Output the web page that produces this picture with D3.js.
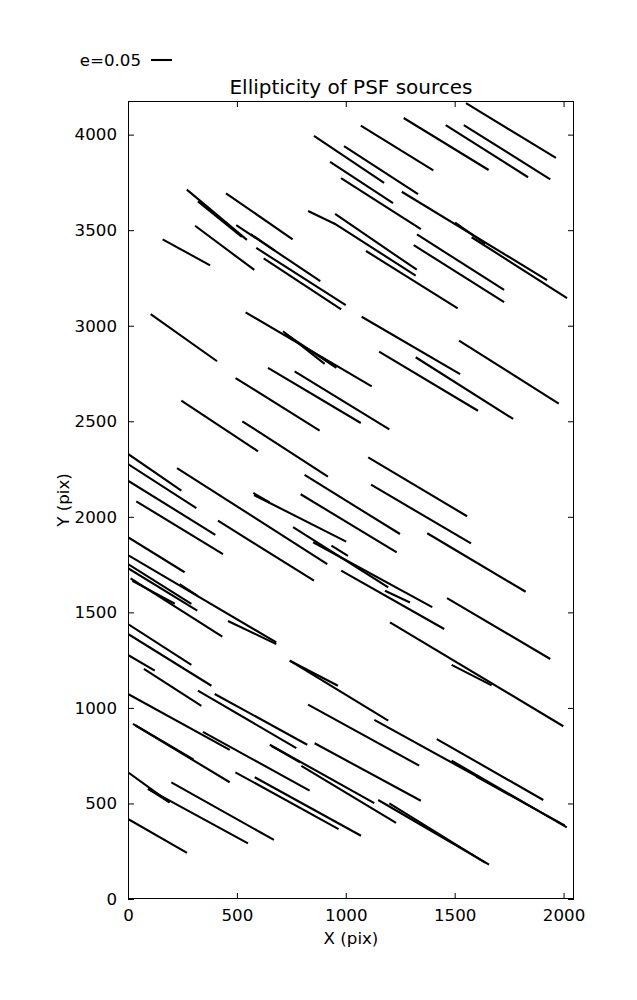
<!DOCTYPE html>
<html>
<head>
<meta charset="utf-8">
<script src="https://cdn.jsdelivr.net/npm/d3@7/dist/d3.min.js"></script>
<style>
  body { margin: 0; background: #fff; }
  svg { display: block; }
  text { font-family: "DejaVu Sans", sans-serif; fill: #000; }
</style>
</head>
<body>
<svg id="chart" width="637" height="1000"></svg>
<script>
// Whisker segments (data units, pixels on the CCD): start and end of each ellipticity stick
const xStart = [1552,1069,1266,1459,1542,854,992,928,978,1257,1578,1502,1327,1312,951,947,1093,827,270,321,450,308,159,497,563,589,623,
  104,1073,1153,1321,1520,540,712,720,643,765,494,245,525,
  1103,1116,811,793,1374,575,413,1465,1203,1486,850,758,934,979,1180,
  0,0,0,0,12,20,237,459,0,0,0,73,
  23,35,0,344,321,398,827,857,651,660,796,493,582,0,92,92,0,199,743,743,1131,1418,1486,1600,1149,1200,
  0,38,0,0,579,225];
const yStart = [4165,4047,4087,4050,4050,3993,3940,3857,3773,3701,3463,3540,3478,3422,3585,3536,3391,3600,3712,3651,3693,3523,3452,3527,3480,3407,3353,
  3061,3047,2864,2835,2922,3070,2971,2960,2779,2761,2726,2608,2500,
  2311,2168,2219,2118,1914,2125,1980,1575,1448,1225,1867,1946,1849,1718,1613,
  1893,1800,1753,1731,1678,1665,1648,1455,1439,1387,1277,1204,
  916,908,1073,875,1090,1073,1017,815,807,800,697,663,637,663,576,576,419,610,1247,1247,937,837,724,640,518,500,
  2329,2081,2189,2276,2114,2255];
const xEnd = [1965,1402,1656,1837,1939,1176,1332,1217,1345,1924,2016,1640,1727,1727,1326,1321,1514,951,546,523,756,580,377,883,674,1000,979,
  409,1525,1607,1769,1978,1119,903,957,1069,1200,880,597,918,
  1557,1575,1249,1234,1826,650,854,1939,1999,1670,1397,1195,1010,1452,1295,
  260,681,291,318,433,215,318,681,291,383,123,337,
  467,300,467,834,773,823,1337,1345,1131,790,1231,967,1070,191,191,551,271,670,1195,964,1624,1907,2015,2005,1658,1640,
  245,436,401,314,1002,915];
const yEnd = [3878,3813,3815,3777,3766,3747,3689,3642,3506,3239,3145,3430,3187,3123,3293,3262,3091,3532,3449,3464,3452,3292,3316,3234,3393,3108,3086,
  2814,2747,2555,2512,2592,2683,2800,2779,2491,2458,2451,2343,2210,
  2003,1861,1910,1814,1608,2075,1666,1256,904,1118,1527,1631,1796,1413,1552,
  1710,1343,1544,1509,1373,1545,1587,1334,1225,1116,1195,1011,
  611,730,780,567,790,807,698,514,502,715,398,366,331,506,506,291,241,309,933,1116,628,518,375,385,180,190,
  2137,1805,1906,2046,1870,1753];

const xTicks = [0, 500, 1000, 1500, 2000];
const yTicks = [0, 500, 1000, 1500, 2000, 2500, 3000, 3500, 4000];
const xDomain = [0, 2048];
const yDomain = [0, 4176];
const keyE = 0.05;          // quiver key ellipticity
const keyLabel = "e=0.05";
const titleText = "Ellipticity of PSF sources";
const xLabel = "X (pix)";
const yLabel = "Y (pix)";

const plot = { left: 128, right: 574, top: 101, bottom: 899 };
const pxPerE = 420;         // whisker length scale (px per unit ellipticity)

const svg = d3.select("#chart");
const x = d3.scaleLinear().domain(xDomain).range([plot.left, plot.right]);
const y = d3.scaleLinear().domain(yDomain).range([plot.bottom, plot.top]);

svg.append("defs").append("clipPath").attr("id", "clip")
  .append("rect").attr("x", plot.left).attr("y", plot.top)
  .attr("width", plot.right - plot.left).attr("height", plot.bottom - plot.top);

const segs = d3.range(xStart.length).map(i => ({x1: xStart[i], y1: yStart[i], x2: xEnd[i], y2: yEnd[i]}));

svg.append("g").attr("clip-path", "url(#clip)")
  .selectAll("line").data(segs).join("line")
  .attr("x1", d => x(d.x1)).attr("y1", d => y(d.y1))
  .attr("x2", d => x(d.x2)).attr("y2", d => y(d.y2))
  .attr("stroke", "#000").attr("stroke-width", 2.1).attr("stroke-linecap", "butt");

const fs = 16.67;
const tickLen = 6;

const axB = d3.axisBottom(x).tickValues(xTicks).tickSize(-tickLen).tickPadding(tickLen + 4).tickFormat(d3.format("d"));
const axT = d3.axisTop(x).tickValues(xTicks).tickSize(-tickLen).tickFormat("");
const axL = d3.axisLeft(y).tickValues(yTicks).tickSize(-tickLen).tickPadding(tickLen + 5).tickFormat(d3.format("d"));
const axR = d3.axisRight(y).tickValues(yTicks).tickSize(-tickLen).tickFormat("");

function style(g) {
  g.select(".domain").remove();
  g.selectAll(".tick line").attr("stroke", "#000").attr("stroke-width", 1);
  g.selectAll(".tick text").style("font-size", fs + "px").style("font-family", "DejaVu Sans");
}
svg.append("g").attr("transform", `translate(0,${plot.bottom})`).call(axB).call(style);
svg.append("g").attr("transform", `translate(0,${plot.top})`).call(axT).call(style);
svg.append("g").attr("transform", `translate(${plot.left},0)`).call(axL).call(style);
svg.append("g").attr("transform", `translate(${plot.right},0)`).call(axR).call(style);

svg.append("rect").attr("x", plot.left + 0.5).attr("y", plot.top + 0.5)
  .attr("width", plot.right - plot.left - 1).attr("height", plot.bottom - plot.top - 1)
  .attr("fill", "none").attr("stroke", "#000").attr("stroke-width", 1);

svg.append("text").attr("x", (plot.left + plot.right) / 2).attr("y", 94)
  .attr("text-anchor", "middle").style("font-size", "20px").text(titleText);

svg.append("text").attr("x", (plot.left + plot.right) / 2).attr("y", 944)
  .attr("text-anchor", "middle").style("font-size", fs + "px").text(xLabel);
svg.append("text").attr("transform", `translate(69,${(plot.top + plot.bottom) / 2}) rotate(-90)`)
  .attr("text-anchor", "middle").style("font-size", fs + "px").text(yLabel);

const keyY = 60, keyX0 = 151;
svg.append("line").attr("x1", keyX0).attr("x2", keyX0 + keyE * pxPerE)
  .attr("y1", keyY).attr("y2", keyY).attr("stroke", "#000").attr("stroke-width", 2.1);
svg.append("text").attr("x", keyX0 - 10).attr("y", keyY + 6)
  .attr("text-anchor", "end").style("font-size", fs + "px").text(keyLabel);
</script>
</body>
</html>
